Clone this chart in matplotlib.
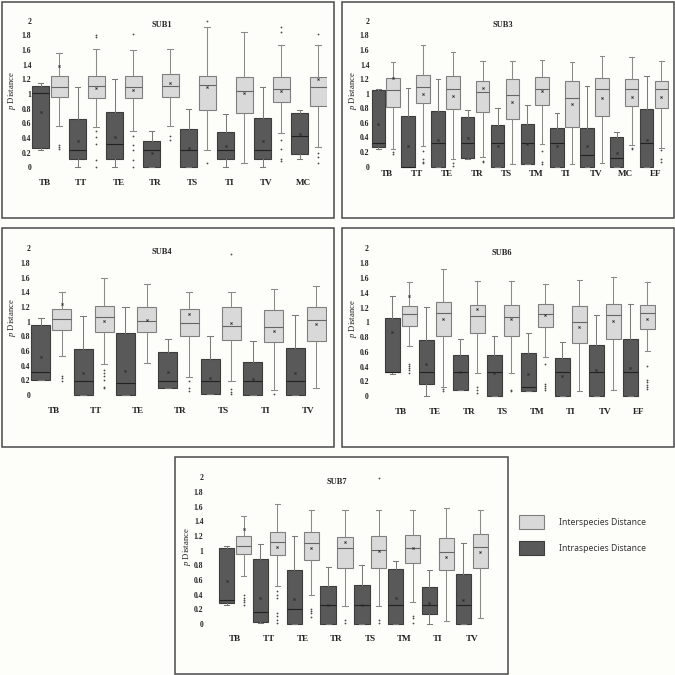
import numpy as np
import matplotlib
matplotlib.use('Agg')
import matplotlib.pyplot as plt
from matplotlib.patches import Rectangle, Patch

plt.rcParams['mathtext.fontset'] = 'custom'
plt.rcParams['mathtext.it'] = 'Liberation Serif:italic'
plt.rcParams['mathtext.rm'] = 'Liberation Serif'

W = H = 675.0

# each row: (whisker low, q1, median, q3, whisker high, mean)
sub1_names = ['TB', 'TT', 'TE', 'TR', 'TS', 'TI', 'TV', 'MC']
sub1_intra = [(0.23, 0.27, 1.02, 1.11, 1.15, 0.76),
              (0.0, 0.115, 0.23, 0.66, 1.09, 0.36),
              (0.0, 0.115, 0.32, 0.76, 1.2, 0.42),
              (0.0, 0.0, 0.23, 0.355, 0.49, 0.19),
              (0.0, 0.0, 0.23, 0.52, 0.8, 0.26),
              (0.0, 0.115, 0.23, 0.48, 0.73, 0.29),
              (0.0, 0.115, 0.23, 0.67, 1.1, 0.36),
              (0.12, 0.18, 0.43, 0.74, 0.78, 0.455)]
sub1_inter = [(0.57, 0.955, 1.09, 1.24, 1.555, 1.38),
              (0.555, 0.95, 1.11, 1.245, 1.61, 1.08),
              (0.5, 0.94, 1.09, 1.24, 1.6, 1.06),
              (0.57, 0.955, 1.11, 1.27, 1.61, 1.155),
              (0.24, 0.78, 1.12, 1.24, 1.92, 1.09),
              (0.055, 0.745, 1.04, 1.23, 1.84, 1.01),
              (0.465, 0.89, 1.07, 1.23, 1.67, 1.045),
              (0.28, 0.83, 1.1, 1.23, 1.67, 1.21)]
sub1_inter_fliers = [[0.31, 0.28, 0.25], [1.81, 1.78, 0.49, 0.42, 0.32, 0.1, 0.0],
                     [1.82, 0.43, 0.3, 0.23, 0.1, 0.0], [0.43, 0.37], [2.0, 0.06], [],
                     [1.91, 1.85, 0.37, 0.25, 0.11, 0.09], [1.82, 0.2, 0.14, 0.06]]

sub3_names = ['TB', 'TT', 'TE', 'TR', 'TS', 'TM', 'TI', 'TV', 'MC', 'EF']
sub3_intra = [(0.24, 0.27, 0.32, 1.05, 1.06, 0.59),
              (0.0, 0.0, 0.0, 0.70, 1.08, 0.29),
              (0.0, 0.0, 0.32, 0.76, 1.2, 0.37),
              (0.11, 0.12, 0.32, 0.68, 0.78, 0.39),
              (0.0, 0.0, 0.32, 0.57, 0.8, 0.29),
              (0.035, 0.035, 0.32, 0.585, 0.85, 0.31),
              (0.0, 0.0, 0.32, 0.53, 0.73, 0.28),
              (0.0, 0.0, 0.16, 0.525, 1.1, 0.29),
              (0.0, 0.0, 0.12, 0.4, 0.48, 0.19),
              (0.0, 0.0, 0.32, 0.79, 1.24, 0.37)]
sub3_inter = [(0.24, 0.82, 1.05, 1.21, 1.43, 1.22),
              (0.29, 0.87, 1.09, 1.25, 1.67, 0.99),
              (0.1, 0.785, 1.07, 1.24, 1.57, 0.97),
              (0.13, 0.755, 1.02, 1.18, 1.45, 1.08),
              (0.04, 0.66, 0.98, 1.2, 1.45, 0.89),
              (0.31, 0.84, 1.06, 1.23, 1.46, 1.04),
              (0.04, 0.54, 0.94, 1.17, 1.44, 0.86),
              (0.055, 0.7, 1.06, 1.21, 1.51, 0.94),
              (0.3, 0.83, 1.06, 1.2, 1.5, 0.96),
              (0.26, 0.8, 1.06, 1.18, 1.45, 0.95)]
sub3_inter_fliers = [[0.2, 0.17], [0.22, 0.1, 0.07, 0.05], [0.05, 0.01], [0.08, 0.06], [],
                     [0.22, 0.07, 0.04], [], [], [0.26, 0.24], [0.23, 0.1, 0.06]]

sub4_names = ['TB', 'TT', 'TE', 'TR', 'TS', 'TI', 'TV']
sub4_intra = [(0.2, 0.205, 0.31, 0.955, 1.055, 0.52),
              (0.0, 0.0, 0.19, 0.63, 1.08, 0.295),
              (0.0, 0.0, 0.16, 0.84, 1.2, 0.33),
              (0.09, 0.1, 0.19, 0.585, 0.765, 0.31),
              (0.01, 0.01, 0.19, 0.49, 0.81, 0.235),
              (0.0, 0.0, 0.19, 0.455, 0.735, 0.22),
              (0.0, 0.0, 0.19, 0.635, 1.09, 0.295)]
sub4_inter = [(0.53, 0.88, 1.03, 1.17, 1.41, 1.245),
              (0.42, 0.865, 1.07, 1.21, 1.6, 1.01),
              (0.44, 0.855, 1.01, 1.2, 1.51, 1.02),
              (0.245, 0.8, 0.98, 1.17, 1.41, 1.1),
              (0.19, 0.745, 0.945, 1.2, 1.41, 0.98),
              (0.07, 0.72, 0.93, 1.155, 1.44, 0.87),
              (0.09, 0.73, 1.02, 1.2, 1.49, 0.965)]
sub4_inter_fliers = [[0.26, 0.23, 0.19], [0.34, 0.3, 0.26, 0.2, 0.11, 0.09], [],
                     [0.19, 0.09, 0.06], [1.92, 0.08, 0.045, 0.02], [0.02], []]

sub6_names = ['TB', 'TE', 'TR', 'TS', 'TM', 'TI', 'TV', 'EF']
sub6_intra = [(0.3, 0.33, 0.33, 1.06, 1.36, 0.87),
              (0.01, 0.165, 0.33, 0.76, 1.21, 0.44),
              (0.08, 0.09, 0.33, 0.56, 0.775, 0.33),
              (0.0, 0.0, 0.33, 0.56, 0.82, 0.31),
              (0.07, 0.07, 0.12, 0.585, 0.86, 0.3),
              (0.0, 0.0, 0.33, 0.52, 0.73, 0.28),
              (0.0, 0.0, 0.33, 0.69, 1.1, 0.35),
              (0.0, 0.0, 0.33, 0.775, 1.25, 0.38)]
sub6_inter = [(0.685, 0.955, 1.11, 1.225, 1.54, 1.36),
              (0.12, 0.815, 1.12, 1.28, 1.72, 1.04),
              (0.32, 0.85, 1.09, 1.24, 1.56, 1.18),
              (0.32, 0.815, 1.07, 1.24, 1.56, 1.05),
              (0.53, 0.93, 1.11, 1.25, 1.52, 1.1),
              (0.065, 0.725, 1.01, 1.22, 1.57, 0.94),
              (0.09, 0.78, 1.095, 1.25, 1.61, 1.02),
              (0.61, 0.915, 1.12, 1.235, 1.54, 1.04)]
sub6_inter_fliers = [[0.44, 0.41, 0.38, 0.35, 0.32], [0.1, 0.07], [0.13, 0.09, 0.05], [0.09, 0.065],
                     [0.43, 0.17, 0.14, 0.11, 0.08], [], [], [0.41, 0.22, 0.19, 0.15, 0.13, 0.1]]

sub7_names = ['TB', 'TT', 'TE', 'TR', 'TS', 'TM', 'TI', 'TV']
sub7_intra = [(0.26, 0.29, 0.33, 1.03, 1.06, 0.59),
              (0.01, 0.027, 0.17, 0.88, 1.085, 0.36),
              (0.0, 0.0, 0.2, 0.74, 1.2, 0.34),
              (0.0, 0.0, 0.255, 0.52, 0.775, 0.255),
              (0.0, 0.0, 0.255, 0.53, 0.81, 0.255),
              (0.0, 0.0, 0.255, 0.745, 0.855, 0.355),
              (0.0, 0.135, 0.255, 0.5, 0.73, 0.29),
              (0.0, 0.0, 0.255, 0.68, 1.11, 0.33)]
sub7_inter = [(0.66, 0.95, 1.07, 1.2, 1.47, 1.3),
              (0.52, 0.94, 1.12, 1.25, 1.64, 1.05),
              (0.4, 0.87, 1.1, 1.25, 1.55, 1.03),
              (0.24, 0.77, 1.03, 1.19, 1.55, 1.12),
              (0.24, 0.77, 1.01, 1.2, 1.55, 1.0),
              (0.3, 0.835, 1.04, 1.21, 1.55, 1.04),
              (0.045, 0.73, 0.98, 1.17, 1.58, 0.92),
              (0.085, 0.765, 1.045, 1.23, 1.55, 0.98)]
sub7_inter_fliers = [[0.4, 0.36, 0.33, 0.3, 0.26], [0.45, 0.39, 0.36, 0.15, 0.11, 0.055, 0.02],
                     [0.21, 0.18, 0.15, 0.1], [0.055, 0.02], [1.99, 0.055, 0.02], [0.11, 0.08, 0.02], [], []]

ytick_vals = [0, 0.2, 0.4, 0.6, 0.8, 1, 1.2, 1.4, 1.6, 1.8, 2]
ytick_labels = ['0', '0.2', '0.4', '0.6', '0.8', '1', '1.2', '1.4', '1.6', '1.8', '2']
legend_labels = ['Interspecies Distance', 'Intraspecies Distance']

DARK, DARK_EDGE = '#595959', '#3d3d3d'
LIGHT, LIGHT_EDGE = '#d9d9d9', '#7f7f7f'
BG = '#fdfdfa'
SERIF = 'Liberation Serif'


def make_stats(rows, fliers=None):
    out = []
    for i, r in enumerate(rows):
        out.append(dict(whislo=r[0], q1=r[1], med=r[2], q3=r[3], whishi=r[4], mean=r[5],
                        fliers=fliers[i] if fliers else []))
    return out


fig = plt.figure(figsize=(6.75, 6.75), dpi=100, facecolor=BG)

# pixel layout: frame box, first box centre, box spacing, y of 0 and 2, tick pad, title pos, ylabel x, label offset/drop
panels = [
    dict(title='SUB1', names=sub1_names, intra=sub1_intra, inter=sub1_inter, fl=sub1_inter_fliers,
         frame=(2, 2, 334, 218), c0=40.7, s=18.5, y0=167.3, y2=20.7, pad=0.0,
         tpos=(162, 25), ylx=12, loff=0.2, ldy=16),
    dict(title='SUB3', names=sub3_names, intra=sub3_intra, inter=sub3_inter, fl=sub3_inter_fliers,
         frame=(342, 2, 674, 218), c0=378.3, s=14.9, y0=166.7, y2=20.7, pad=1.0,
         tpos=(503, 25), ylx=353, loff=0.6, ldy=7),
    dict(title='SUB4', names=sub4_names, intra=sub4_intra, inter=sub4_inter, fl=sub4_inter_fliers,
         frame=(2, 228, 334, 447), c0=40.7, s=21.2, y0=395.0, y2=248.3, pad=0.0,
         tpos=(162, 252), ylx=12, loff=0.6, ldy=16),
    dict(title='SUB6', names=sub6_names, intra=sub6_intra, inter=sub6_inter, fl=sub6_inter_fliers,
         frame=(342, 228, 674, 447), c0=392.3, s=17.0, y0=396.3, y2=248.3, pad=10.8,
         tpos=(502, 253), ylx=353, loff=0.5, ldy=16),
    dict(title='SUB7', names=sub7_names, intra=sub7_intra, inter=sub7_inter, fl=sub7_inter_fliers,
         frame=(175, 457, 508, 674), c0=226.7, s=16.9, y0=624.0, y2=477.3, pad=10.7,
         tpos=(337, 482), ylx=187, loff=0.5, ldy=15),
]

for p in panels:
    x0, y0f, x1, y1f = p['frame']
    fig.add_artist(Rectangle((x0 / W, 1 - y1f / H), (x1 - x0) / W, (y1f - y0f) / H,
                             transform=fig.transFigure, fill=False, ec='#4a4a4a', lw=1.1))

    n = 2 * len(p['names'])
    u = (p['y0'] - p['y2']) / 2.0
    left = p['c0'] - 0.5 * p['s']
    bottom = p['y0'] + 0.1 * u
    top = p['y2'] - 0.1 * u
    ax = fig.add_axes([left / W, 1 - bottom / H, n * p['s'] / W, (bottom - top) / H])
    ax.set_facecolor('none')
    ax.set_xlim(-0.5, n - 0.5)
    ax.set_ylim(-0.1, 2.1)

    common = dict(widths=0.9, capwidths=0.3, showmeans=True, patch_artist=True,
                  meanprops=dict(marker='x', markersize=1.5, markeredgewidth=0.6, markeredgecolor='#2a2a2a'),
                  flierprops=dict(marker='o', markersize=1.3, markerfacecolor='#4a4a4a', markeredgecolor='none'))
    ax.bxp(make_stats(p['intra']), positions=np.arange(0, n, 2),
           boxprops=dict(facecolor=DARK, edgecolor=DARK_EDGE, linewidth=0.8),
           medianprops=dict(color='#222222', linewidth=0.8),
           whiskerprops=dict(color='#7a7a7a', linewidth=0.75),
           capprops=dict(color='#7a7a7a', linewidth=0.75), **common)
    ax.bxp(make_stats(p['inter'], p['fl']), positions=np.arange(1, n, 2),
           boxprops=dict(facecolor=LIGHT, edgecolor=LIGHT_EDGE, linewidth=0.8),
           medianprops=dict(color='#666666', linewidth=0.8),
           whiskerprops=dict(color='#8a8a8a', linewidth=0.75),
           capprops=dict(color='#8a8a8a', linewidth=0.75), **common)

    for sp in ax.spines.values():
        sp.set_visible(False)
    ax.set_xticks([])
    ax.set_yticks(ytick_vals)
    ax.set_yticklabels(ytick_labels, fontfamily=SERIF, fontweight='bold', fontsize=5.5, color='#222222')
    ax.tick_params(axis='y', length=0, pad=p['pad'])

    for i, name in enumerate(p['names']):
        ax.text(2 * i + p['loff'], -p['ldy'] / u, name, ha='center', va='center',
                fontfamily=SERIF, fontweight='bold', fontsize=6.5, color='#222222', clip_on=False)

    fig.text(p['tpos'][0] / W, 1 - p['tpos'][1] / H, p['title'], ha='center', va='center',
             fontfamily=SERIF, fontweight='bold', fontsize=6.0, color='#222222')
    fig.text(p['ylx'] / W, 1 - (p['y0'] - 1.05 * u) / H, r'$\mathit{p}$ Distance', rotation=90,
             ha='center', va='center', fontfamily=SERIF, fontsize=6.2, color='#222222')

handles = [Patch(facecolor=LIGHT, edgecolor=LIGHT_EDGE, linewidth=0.8),
           Patch(facecolor=DARK, edgecolor=DARK_EDGE, linewidth=0.8)]
fig.legend(handles, legend_labels, loc='upper left', bbox_to_anchor=(519 / W, 1 - 515 / H),
           frameon=False, borderpad=0, borderaxespad=0, handlelength=2.9, handleheight=2.2,
           handletextpad=1.7, labelspacing=1.3,
           prop=dict(family='Noto Sans', size=6.2), labelcolor='#333333')

fig.savefig('out.png', dpi=100, facecolor=BG)
